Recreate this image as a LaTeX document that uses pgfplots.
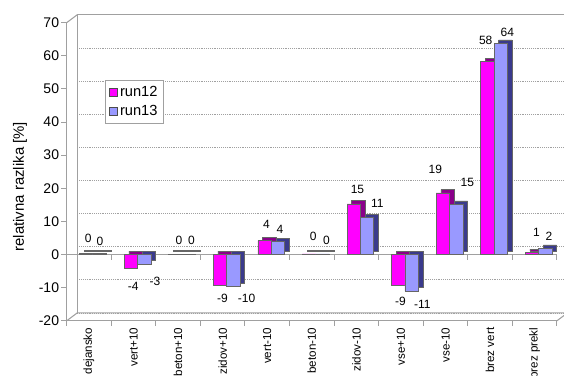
\documentclass[border=0pt]{standalone}
\usepackage{pgfplots}
\pgfplotsset{compat=1.18}
\usepackage{pgfplotstable}
\usepackage{fontspec}
\setmainfont{Liberation Sans}
\definecolor{runA}{HTML}{FF00FF}
\definecolor{runAside}{HTML}{8A008A}
\definecolor{runB}{HTML}{9999FF}
\definecolor{runBside}{HTML}{3A3A8C}
\definecolor{wall}{HTML}{A0A0A0}

% x, value, label, label offsets (pt)
\pgfplotstableread{
x y lab off dx
0 0.25 0 11.7 -0.5
1 -4.0 -4 -14.1 -0.2
2 0.15 0 9.9 0.6
3 -9.3 -9 -10.1 -0.1
4 4.2 4 11.9 -0.5
5 0.2 0 13 1
6 15.3 15 10.5 0.8
7 -9.2 -9 -12.4 -0.4
8 18.6 19 17.8 -7.6
9 58.2 58 16.4 -3.3
10 0.6 1 15 1.3
}\runA

\pgfplotstableread{
x y lab off dx
0 0.25 0 9.2 8.2
1 -2.8 -3 -13.3 16
2 0.15 0 9.9 10.1
3 -9.7 -10 -8.6 17.9
4 3.9 4 8.9 9.5
5 0.2 0 10.5 11
6 11.2 11 10.2 15.8
7 -11.0 -11 -10.4 16.1
8 15.2 15 16.2 16.4
9 63.8 64 8.5 13
10 1.9 2 9.3 10.7
}\runB

\begin{document}
\begin{tikzpicture}
\begin{axis}[
  scale only axis, width=367.7pt, height=223.6pt,
  clip=false,
  xmin=-0.5, xmax=10.5, ymin=-20, ymax=70,
  ytick={-20,-10,0,10,20,30,40,50,60,70},
  yticklabels={-20,-10,0,10,20,30,40,50,60,70},
  xtick={0,...,10},
  xticklabels={dejansko,vert+10,beton+10,zidov+10,vert-10,beton-10,zidov-10,vse+10,vse-10,brez vert,brez prekl},
  x tick label style={rotate=90, anchor=east, font=\fontsize{8.7}{9}\selectfont, inner sep=1pt},
  y tick label style={font=\fontsize{10.5}{11}\selectfont, inner sep=1.5pt},
  minor xtick={-0.5,0.5,...,10.5},
  major x tick style={draw=none},
  minor tick length=4pt,
  major tick length=4pt,
  tick align=outside,
  tick style={wall, thick},
  axis x line*=bottom,
  axis y line*=left,
  axis line style={wall, thick},
  ymajorgrids,
  major grid style={densely dotted, wall, xshift=8pt, yshift=6pt},
  ylabel={relativna razlika [\%]},
  every axis y label/.style={at={(axis description cs:0,0.45)}, xshift=-35pt, rotate=90, anchor=center, font=\fontsize{11.2}{12}\selectfont},
  legend style={at={(0.078,0.808)}, anchor=north west, draw=wall, font=\fontsize{11}{12}\selectfont, row sep=1pt, inner sep=2.5pt},
  legend cell align=left,
  area legend,
  legend image code/.code={\draw[#1, draw=black!70] (0cm,-0.11cm) rectangle (0.22cm,0.11cm);},
]
% back wall and floor
\draw[wall, thick] ([shift={(8pt,6pt)}]axis cs:-0.5,-20) -- ([shift={(8pt,6pt)}]axis cs:-0.5,70) -- ([shift={(8pt,6pt)}]axis cs:10.5,70);
\draw[wall, thick] (axis cs:-0.5,70) -- ([shift={(8pt,6pt)}]axis cs:-0.5,70);
\draw[wall, thick] (axis cs:-0.5,-20) -- ([shift={(8pt,6pt)}]axis cs:-0.5,-20) -- ([shift={(8pt,6pt)}]axis cs:10.5,-20) -- (axis cs:10.5,-20);
\draw[wall, thick] (axis cs:-0.5,0) -- (axis cs:10.5,0);
\pgfplotsinvokeforeach{0,...,11}{\draw[wall, thick] (axis cs:#1-0.5,0) -- ([yshift=-4pt]axis cs:#1-0.5,0);}
% depth faces
\addplot[ybar, bar width=10pt, bar shift=-2pt, fill=runAside, draw=black!60, xshift=3.5pt, yshift=2.5pt, forget plot] table[x=x,y=y]{\runA};
\addplot[ybar, bar width=10pt, bar shift=8pt, fill=runBside, draw=black!60, xshift=3.5pt, yshift=2.5pt, forget plot] table[x=x,y=y]{\runB};
% front faces
\addplot[ybar, bar width=10pt, bar shift=-2pt, fill=runA, draw=black!60,
  point meta=explicit symbolic,
  visualization depends on={\thisrow{off} \as \off},
  visualization depends on={\thisrow{dx} \as \dx},
  nodes near coords,
  every node near coord/.append style={font=\fontsize{9}{10}\selectfont, text=black, anchor=center, yshift=\off pt, xshift=\dx pt}]
  table[x=x,y=y,meta=lab]{\runA};
\addlegendentry{run12}
\addplot[ybar, bar width=10pt, bar shift=8pt, fill=runB, draw=black!60,
  point meta=explicit symbolic,
  visualization depends on={\thisrow{off} \as \off},
  visualization depends on={\thisrow{dx} \as \dx},
  nodes near coords,
  every node near coord/.append style={font=\fontsize{9}{10}\selectfont, text=black, anchor=center, yshift=\off pt, xshift=\dx pt}]
  table[x=x,y=y,meta=lab]{\runB};
\addlegendentry{run13}
\end{axis}
\pgfresetboundingbox
\path[use as bounding box] ([shift={(-50pt,-41.3pt)}]current axis.south west) rectangle ([shift={(5.3pt,17pt)}]current axis.north east);
\end{tikzpicture}
\end{document}
